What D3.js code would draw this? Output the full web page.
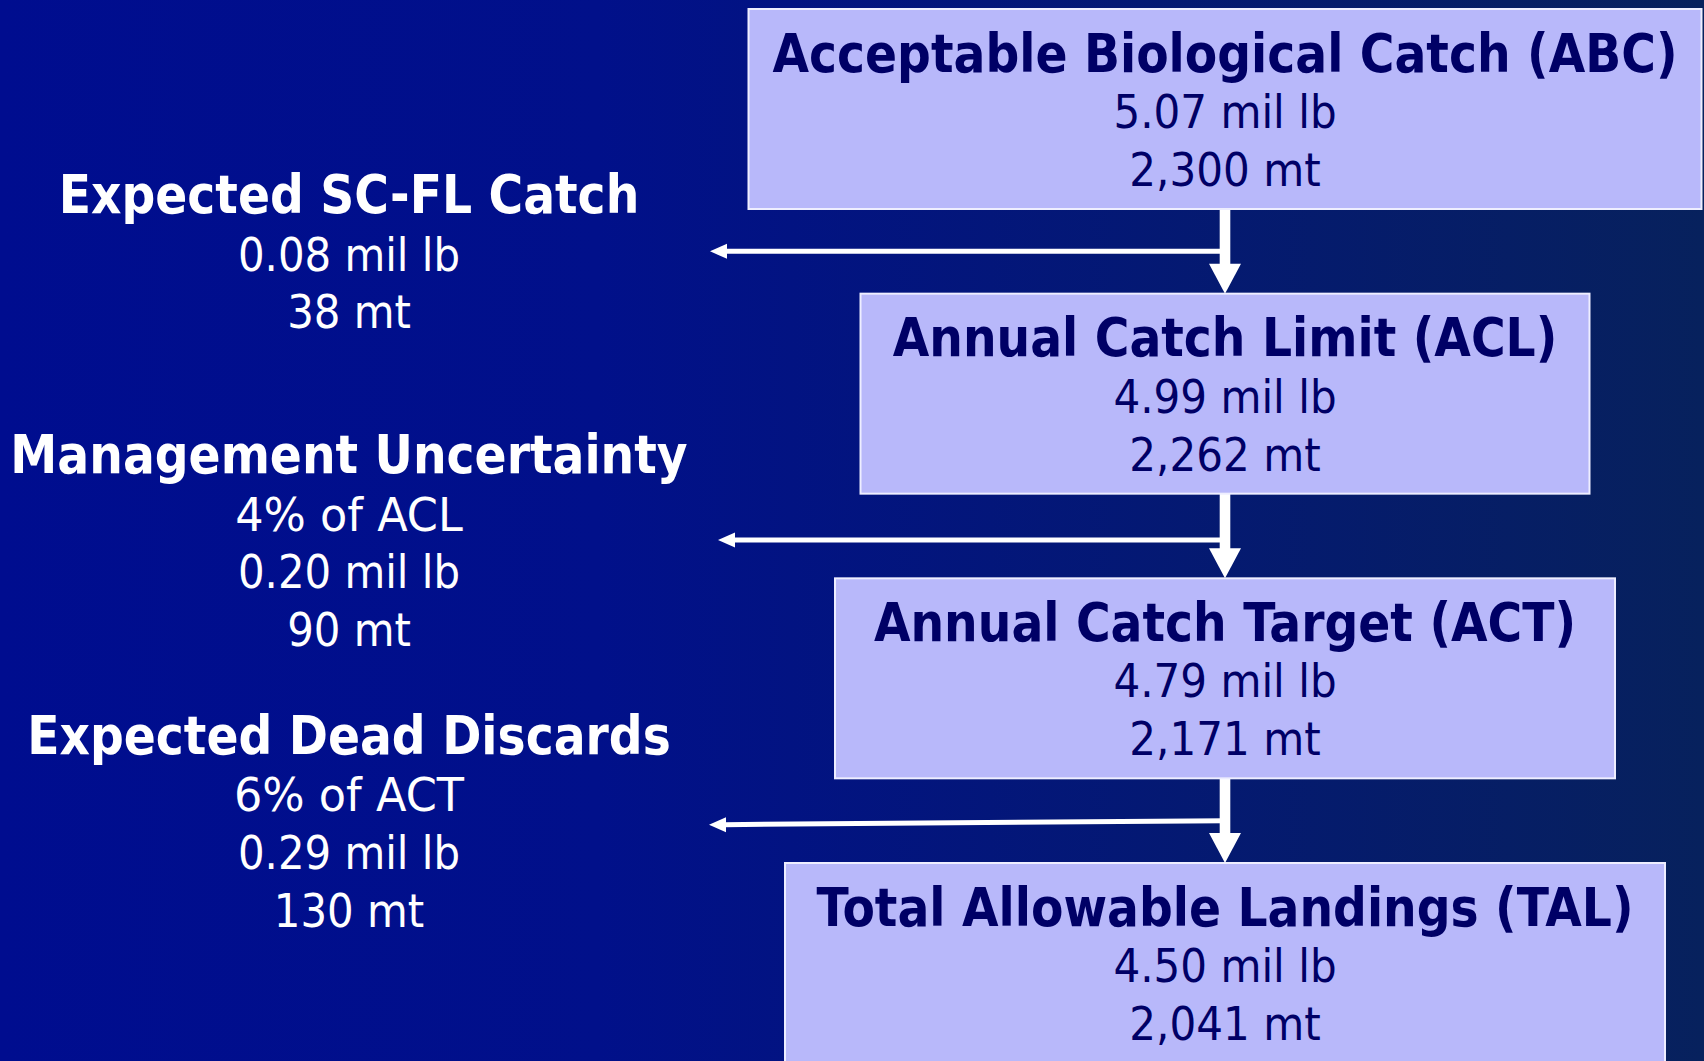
<!DOCTYPE html>
<html>
<head>
<meta charset="utf-8">
<script src="https://cdn.jsdelivr.net/npm/d3@7"></script>
<style>
  html, body { margin: 0; padding: 0; overflow: hidden; }
  svg { display: block; }
</style>
</head>
<body>
<div id="chart"></div>
<script>
// catch levels (boxes, top to bottom)
const stages = ["Acceptable Biological Catch (ABC)", "Annual Catch Limit (ACL)", "Annual Catch Target (ACT)", "Total Allowable Landings (TAL)"];
const stageMilLb = [5.07, 4.99, 4.79, 4.50];
const stageMt = [2300, 2262, 2171, 2041];

// deductions between levels (left side)
const deductions = ["Expected SC-FL Catch", "Management Uncertainty", "Expected Dead Discards"];
const deductionPct = [null, 4, 6];
const deductionOf = [null, "ACL", "ACT"];
const deductionMilLb = [0.08, 0.20, 0.29];
const deductionMt = [38, 90, 130];

const W = 1704, H = 1061;
const boxW = [953, 729, 780, 880];
const boxH = 200;
const cx = 1225;
const leftCx = 349;
const arrowTip = [710, 718, 709];
const arrowShift = [0, 4, 0];
const arrowTilt = [0, 0, 4];
const lineGap = 57.6;

const fmtLb = d3.format(".2f");
const fmtMt = d3.format(",");

const svg = d3.select("#chart").append("svg")
  .attr("width", W)
  .attr("height", H);

// background
const grad = svg.append("defs").append("linearGradient")
  .attr("id", "bg").attr("x1", 0).attr("x2", 1).attr("y1", 0).attr("y2", 0);
grad.append("stop").attr("offset", "0%").attr("stop-color", "#000d8f");
grad.append("stop").attr("offset", "35%").attr("stop-color", "#01108a");
grad.append("stop").attr("offset", "100%").attr("stop-color", "#07215d");
svg.append("rect").attr("width", W).attr("height", H).attr("fill", "url(#bg)");

// row position of each box
const y = d3.scaleLinear().domain([0, stages.length - 1]).range([9, 863]);

// squeeze text horizontally (the source used a narrower face)
function squeeze(sel, k) {
  sel.each(function() {
    const n = this.getComputedTextLength();
    d3.select(this).attr("textLength", n * k).attr("lengthAdjust", "spacingAndGlyphs");
  });
}

// side arrows + deduction text
deductions.forEach((d, i) => {
  const ay = (y(i) + boxH + y(i + 1)) / 2 + arrowShift[i];
  const tip = arrowTip[i];
  const ly = ay + arrowTilt[i];
  svg.append("path")
    .attr("d", `M${cx},${ay - 2.5} L${tip + 15},${ly - 2.5} L${tip + 15},${ly + 2.5} L${cx},${ay + 2.5} Z`)
    .attr("fill", "#ffffff");
  svg.append("path")
    .attr("d", `M${tip},${ly} L${tip + 17},${ly - 7.5} L${tip + 17},${ly + 7.5} Z`)
    .attr("fill", "#ffffff");

  const lines = [{ t: d, bold: true, k: 0.875 }];
  if (deductionPct[i] != null) lines.push({ t: deductionPct[i] + "% of " + deductionOf[i], k: 0.99 });
  lines.push({ t: fmtLb(deductionMilLb[i]) + " mil lb", k: 0.93 });
  lines.push({ t: deductionMt[i] + " mt", k: 0.93 });

  const b0 = ay + 19.5 - (lines.length - 1) * lineGap / 2;
  const g = svg.append("g");
  lines.forEach((l, j) => {
    const t = g.append("text")
      .attr("x", leftCx)
      .attr("y", b0 + j * lineGap)
      .attr("text-anchor", "middle")
      .attr("fill", "#ffffff")
      .attr("font-family", "DejaVu Sans, Verdana, sans-serif")
      .attr("font-size", l.bold ? 54 : 46)
      .attr("font-weight", l.bold ? "bold" : "normal")
      .text(l.t);
    squeeze(t, l.bold ? l.k : l.k * 45 / 46);
  });
});

// down arrows between boxes
for (let i = 0; i < stages.length - 1; i++) {
  const y0 = y(i) + boxH, y1 = y(i + 1);
  svg.append("rect")
    .attr("x", cx - 5.3).attr("y", y0)
    .attr("width", 10.6).attr("height", y1 - y0 - 28)
    .attr("fill", "#ffffff");
  svg.append("path")
    .attr("d", `M${cx - 16},${y1 - 30} L${cx + 16},${y1 - 30} L${cx},${y1} Z`)
    .attr("fill", "#ffffff");
}

// boxes
const box = svg.selectAll("g.box").data(stages).join("g").attr("class", "box");
box.append("rect")
  .attr("x", (d, i) => cx - boxW[i] / 2)
  .attr("y", (d, i) => y(i))
  .attr("width", (d, i) => boxW[i])
  .attr("height", boxH)
  .attr("fill", "#b8b8fa")
  .attr("stroke", "#eeeeff")
  .attr("stroke-width", 2);

box.append("text")
  .attr("x", cx)
  .attr("y", (d, i) => y(i) + 62.5)
  .attr("text-anchor", "middle")
  .attr("fill", "#000066")
  .attr("font-family", "DejaVu Sans, Verdana, sans-serif")
  .attr("font-size", 54)
  .attr("font-weight", "bold")
  .text(d => d)
  .call(squeeze, 0.875);

box.append("text")
  .attr("x", cx)
  .attr("y", (d, i) => y(i) + 119)
  .attr("text-anchor", "middle")
  .attr("fill", "#000066")
  .attr("font-family", "DejaVu Sans, Verdana, sans-serif")
  .attr("font-size", 46)
  .text((d, i) => fmtLb(stageMilLb[i]) + " mil lb")
  .call(squeeze, 0.935 * 45 / 46);

box.append("text")
  .attr("x", cx)
  .attr("y", (d, i) => y(i) + 177)
  .attr("text-anchor", "middle")
  .attr("fill", "#000066")
  .attr("font-family", "DejaVu Sans, Verdana, sans-serif")
  .attr("font-size", 46)
  .text((d, i) => fmtMt(stageMt[i]) + " mt")
  .call(squeeze, 0.935 * 45 / 46);
</script>
</body>
</html>
